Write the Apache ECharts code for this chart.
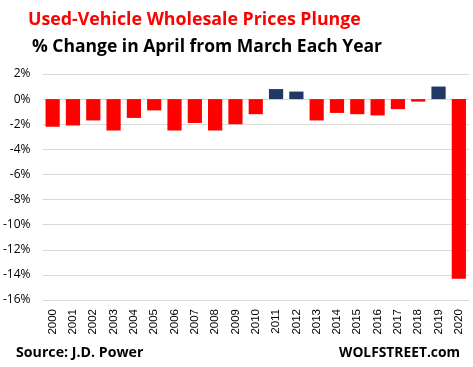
<!DOCTYPE html>
<html><head><meta charset="utf-8">
<script src="https://cdn.jsdelivr.net/npm/echarts@6/dist/echarts.min.js"></script>
<style>html,body{margin:0;padding:0;background:#fff}#c{width:473px;height:367px}</style>
</head><body><div id="c"></div>
<script>
var years = ['2000','2001','2002','2003','2004','2005','2006','2007','2008','2009','2010','2011','2012','2013','2014','2015','2016','2017','2018','2019','2020'];
var pctChange = [-2.2,-2.1,-1.7,-2.5,-1.5,-0.9,-2.5,-1.9,-2.5,-2.0,-1.2,0.8,0.6,-1.7,-1.1,-1.2,-1.3,-0.8,-0.2,1.0,-14.3];
var yTicks = {min:-16, max:2, interval:2};
var RED = '#FF0000', NAVY = '#203864';
var chart = echarts.init(document.getElementById('c'), null, {renderer:'canvas'});
chart.setOption({
  animation:false,
  backgroundColor:'#fff',
  title:[
    {text:'Used-Vehicle Wholesale Prices Plunge', left:23, top:6, textStyle:{color:RED, fontFamily:'Open Sans', fontWeight:'bold', fontSize:17.8}},
    {text:'% Change in April from March Each Year', left:27, top:33, textStyle:{color:'#000', fontFamily:'Open Sans', fontWeight:'bold', fontSize:17.5}},
    {text:'Source: J.D. Power', left:11, top:341, textStyle:{color:'#000', fontFamily:'Open Sans', fontWeight:'bold', fontSize:14.2}},
    {text:'WOLFSTREET.com', right:8, top:341, textStyle:{color:'#000', fontFamily:'Open Sans', fontWeight:'bold', fontSize:13.8}}
  ],
  grid:{left:42, right:4, top:74, bottom:67, containLabel:false},
  xAxis:{type:'category', data:years, position:'bottom',
    axisLine:{show:false}, axisTick:{show:false},
    axisLabel:{rotate:90, margin:9, color:'#000', fontFamily:'Liberation Sans', fontSize:11.5, interval:0}},
  yAxis:{type:'value', min:yTicks.min, max:yTicks.max, interval:yTicks.interval,
    axisLine:{show:false}, axisTick:{show:false},
    splitLine:{lineStyle:{color:'#D9D9D9', width:1}},
    axisLabel:{formatter:'{value}%', color:'#000', fontFamily:'Open Sans', fontSize:12, margin:12}},
  series:[{type:'bar', data:pctChange, barWidth:'70%',
    itemStyle:{color:function(p){return p.value>=0?NAVY:RED;}}}]
});
</script></body></html>
